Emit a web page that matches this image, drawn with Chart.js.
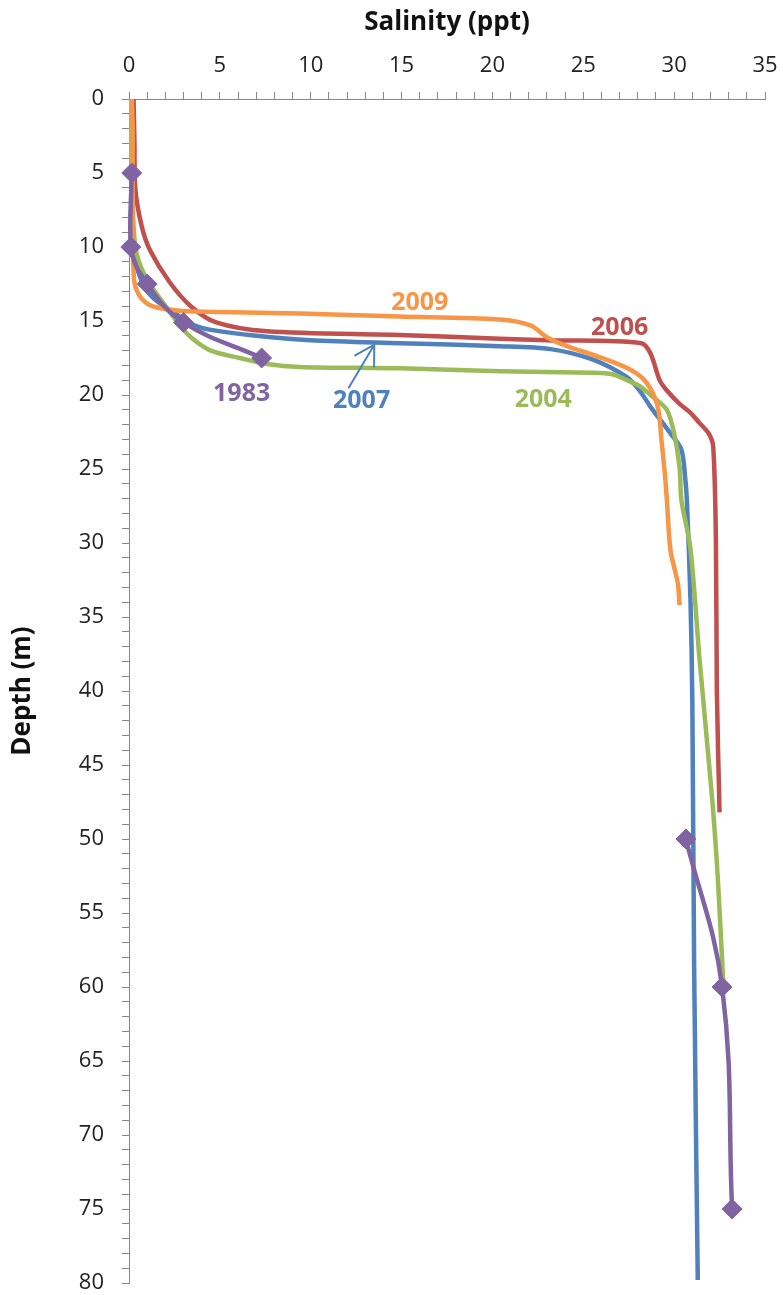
<!DOCTYPE html>
<html>
<head>
<meta charset="utf-8">
<title>Salinity profiles</title>
<script src="https://cdn.jsdelivr.net/npm/chart.js@4.4.1/dist/chart.umd.min.js"></script>
<style>
  html, body { margin: 0; padding: 0; background: #fff; overflow: hidden; }
  #wrap { position: relative; width: 783px; height: 1295px; overflow: hidden; }
  canvas { display: block; }
</style>
</head>
<body>
<div id="wrap"><canvas id="salinityChart" width="783" height="1295"></canvas></div>
<script>
// depth (m) and salinity (ppt)
const depth1983 = [5, 10, 12.5, 15.1, 17.5, null, 50, 60, 75];
const salinity1983 = [0.15, 0.1, 1.0, 3.0, 7.3, null, 30.65, 32.64, 33.19];

const depth2009 = [0, 2, 5, 8, 10, 11.6, 12.4, 13.0, 13.5, 13.9, 14.1, 14.3, 14.4, 14.5, 14.7, 14.9, 15.3, 16.1, 16.7, 17.4, 18.3, 19.2, 20.8, 23.0, 25.5, 27.1, 30.5, 32.7, 34.2];
const salinity2009 = [0.15, 0.2, 0.2, 0.2, 0.2, 0.25, 0.3, 0.45, 0.7, 1.1, 1.6, 2.8, 5.0, 9.4, 14.9, 20.4, 22.1, 23.0, 24.1, 25.8, 27.6, 28.5, 29.1, 29.3, 29.5, 29.6, 29.8, 30.2, 30.3];

const depth2004 = [0, 5, 10, 12, 13.8, 15.3, 16.2, 17.0, 17.5, 17.9, 18.1, 18.2, 18.4, 18.5, 18.6, 19.0, 19.4, 20.1, 21.0, 22.6, 24.9, 27.1, 30.4, 37.9, 47.4, 52.6, 59.6];
const salinity2004 = [0.05, 0.15, 0.35, 0.9, 1.9, 2.8, 3.5, 4.5, 6.1, 7.6, 9.4, 14.9, 20.4, 25.5, 26.6, 27.4, 28.1, 28.8, 29.6, 30.0, 30.3, 30.4, 30.9, 31.4, 32.1, 32.4, 32.7];

const depth2006 = [0, 3, 6.1, 8.6, 10.2, 12.4, 14.0, 15.1, 15.7, 15.95, 16.2, 16.3, 16.5, 17.2, 19.0, 19.7, 20.6, 21.2, 21.9, 22.6, 23.5, 30, 40, 48.2];
const salinity2006 = [0.25, 0.3, 0.35, 0.7, 1.15, 2.25, 3.4, 4.8, 7.6, 14.9, 20.4, 23.0, 28.2, 28.7, 29.2, 29.6, 30.3, 30.9, 31.4, 31.9, 32.15, 32.3, 32.35, 32.5];

const depth2007 = [0, 5, 10, 12, 13.4, 14.7, 15.3, 15.6, 16.0, 16.3, 16.5, 16.7, 16.9, 17.6, 18.8, 19.7, 20.8, 22.6, 23.7, 25.5, 27.1, 33.9, 40.6, 58.6, 79.8];
const salinity2007 = [0.1, 0.12, 0.25, 0.6, 1.3, 2.8, 3.6, 4.5, 7.0, 10.0, 14.9, 20.4, 23.2, 25.5, 27.4, 28.1, 28.7, 29.8, 30.4, 30.6, 30.7, 30.9, 31.0, 31.1, 31.3];

// labelled ticks (minor ticks every 1 unit in between)
const salinityTicks = [0, 5, 10, 15, 20, 25, 30, 35];
const depthTicks = [0, 5, 10, 15, 20, 25, 30, 35, 40, 45, 50, 55, 60, 65, 70, 75, 80];

const cores = {
    1983: '#8064A2',
    2009: '#F79646',
    2004: '#9BBB59',
    2006: '#C0504D',
    2007: '#4F81BD'
};

// where the year labels sit, in data units
const seriesLabels = [
    { text: '2009', sal: 16.0, depth: 13.8 },
    { text: '2006', sal: 27.0, depth: 15.45 },
    { text: '1983', sal: 6.2, depth: 19.9 },
    { text: '2007', sal: 12.8, depth: 20.4 },
    { text: '2004', sal: 22.8, depth: 20.3 }
];
const arrow2007 = { fromSal: 12.1, fromDepth: 19.5, toSal: 13.5, toDepth: 16.6 };

const fonte = '"Open Sans", "DejaVu Sans", sans-serif';

function toPoints(depths, sals) {
    return depths.map((d, i) => ({ x: sals[i], y: d }));
}

function perfil(ano, depths, sals, extra) {
    return Object.assign({
        label: ano,
        data: toPoints(depths, sals),
        showLine: true,
        borderColor: cores[ano],
        backgroundColor: cores[ano],
        borderWidth: 4.5,
        pointRadius: 0,
        pointHoverRadius: 0,
        tension: 0.3,
        spanGaps: false
    }, extra || {});
}

const labelPlugin = {
    id: 'seriesLabels',
    afterDatasetsDraw(chart) {
        const { ctx, scales: { x, y } } = chart;
        ctx.save();
        ctx.font = 'bold 25px ' + fonte;
        ctx.textAlign = 'center';
        ctx.textBaseline = 'middle';
        seriesLabels.forEach(l => {
            ctx.fillStyle = cores[l.text];
            ctx.fillText(l.text, x.getPixelForValue(l.sal), y.getPixelForValue(l.depth));
        });

        // arrow pointing from the 2007 label to its line
        const x0 = x.getPixelForValue(arrow2007.fromSal);
        const y0 = y.getPixelForValue(arrow2007.fromDepth);
        const x1 = x.getPixelForValue(arrow2007.toSal);
        const y1 = y.getPixelForValue(arrow2007.toDepth);
        const ang = Math.atan2(y0 - y1, x0 - x1);
        const asa = 22;
        ctx.strokeStyle = cores[2007];
        ctx.lineWidth = 2;
        ctx.lineCap = 'round';
        ctx.beginPath();
        ctx.moveTo(x0, y0);
        ctx.lineTo(x1, y1);
        ctx.moveTo(x1 + asa * Math.cos(ang - Math.PI / 6), y1 + asa * Math.sin(ang - Math.PI / 6));
        ctx.lineTo(x1, y1);
        ctx.lineTo(x1 + asa * Math.cos(ang + Math.PI / 6), y1 + asa * Math.sin(ang + Math.PI / 6));
        ctx.stroke();
        ctx.restore();
    }
};

const ctxGrafico = document.getElementById('salinityChart').getContext('2d');

const grafico = new Chart(ctxGrafico, {
    type: 'scatter',
    data: {
        datasets: [
            perfil(1983, depth1983, salinity1983, {
                pointRadius: 10,
                pointStyle: 'rectRot',
                pointBorderWidth: 1,
                tension: 0.4,
                clip: false,
                order: 0
            }),
            perfil(2009, depth2009, salinity2009, { order: 1 }),
            perfil(2004, depth2004, salinity2004, { order: 2 }),
            perfil(2006, depth2006, salinity2006, { order: 3 }),
            perfil(2007, depth2007, salinity2007, { order: 4 })
        ]
    },
    options: {
        responsive: false,
        animation: false,
        layout: { padding: { left: 0, right: 18, top: 0, bottom: 12 } },
        plugins: {
            legend: { display: false },
            tooltip: { enabled: false }
        },
        scales: {
            x: {
                type: 'linear',
                position: 'top',
                min: 0,
                max: 35,
                ticks: {
                    stepSize: 1,
                    autoSkip: false,
                    maxRotation: 0,
                    padding: 15,
                    color: '#222',
                    font: { family: fonte, size: 22, lineHeight: 1 },
                    callback: v => salinityTicks.includes(v) ? String(v) : ''
                },
                grid: { drawOnChartArea: false, drawTicks: true, tickLength: 7, color: '#868686' },
                border: { display: true, color: '#868686', width: 1 },
                title: {
                    display: true,
                    text: 'Salinity (ppt)',
                    color: '#111',
                    font: { family: fonte, size: 26, weight: 'bold' },
                    padding: { top: 7, bottom: 0 }
                },
                afterFit(scale) {
                    scale.height = 99;
                    scale.paddingLeft = 0;
                    scale.paddingRight = 0;
                }
            },
            y: {
                type: 'linear',
                position: 'left',
                reverse: true,
                min: 0,
                max: 80,
                ticks: {
                    stepSize: 1,
                    autoSkip: false,
                    padding: 18,
                    color: '#222',
                    font: { family: fonte, size: 22, lineHeight: 1 },
                    callback: v => depthTicks.includes(v) ? String(v) : ''
                },
                grid: { drawOnChartArea: false, drawTicks: true, tickLength: 7, color: '#868686' },
                border: { display: true, color: '#868686', width: 1 },
                title: {
                    display: true,
                    text: 'Depth (m)',
                    color: '#111',
                    font: { family: fonte, size: 26, weight: 'bold' },
                    padding: { top: 7, bottom: 0 }
                },
                afterFit(scale) {
                    scale.width = 129;
                    scale.paddingTop = 0;
                    scale.paddingBottom = 0;
                }
            }
        }
    },
    plugins: [labelPlugin]
});
</script>
</body>
</html>
